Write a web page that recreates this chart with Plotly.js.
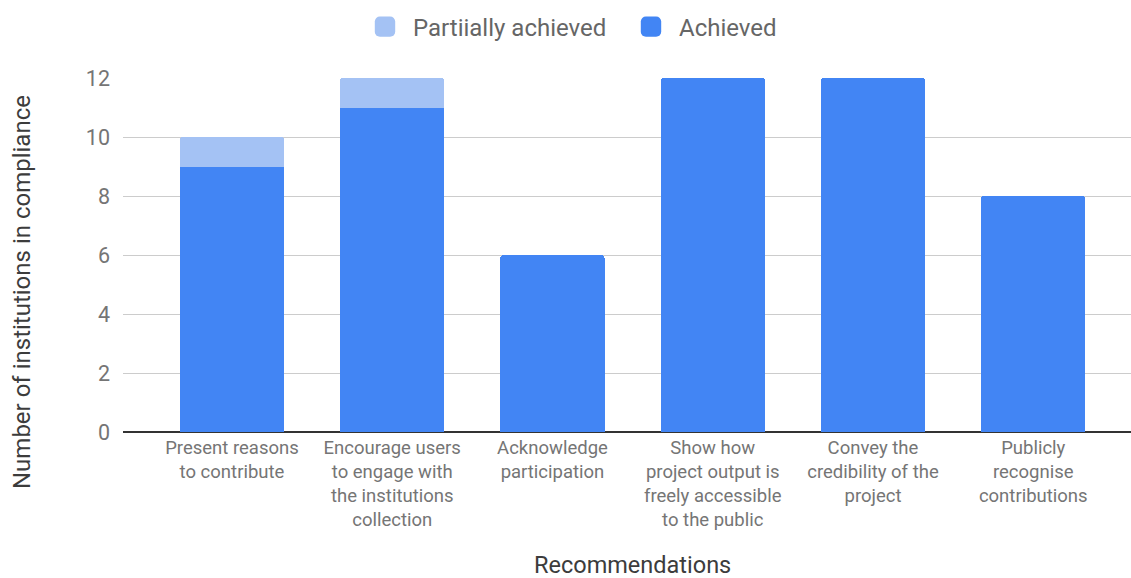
<!DOCTYPE html>
<html>
<head>
<meta charset="utf-8">
<script src="https://cdn.plot.ly/plotly-3.0.1.min.js"></script>
<style>
  html, body { margin: 0; padding: 0; background: #fff; }
  #chart { width: 1131px; height: 578px; }
  /* larger square swatches in the legend */
  #chart .legend .legendpoints path {
    transform: translate(20px, 0px) scale(1.7);
  }
</style>
</head>
<body>
<div id="chart"></div>
<script>
// Recommendations and how many institutions comply with each
const categories = [
  "Present reasons to contribute",
  "Encourage users to engage with the institutions collection",
  "Acknowledge participation",
  "Show how project output is freely accessible to the public",
  "Convey the credibility of the project",
  "Publicly recognise contributions"
];
const tickLabels = [
  "Present reasons<br>to contribute",
  "Encourage users<br>to engage with<br>the institutions<br>collection",
  "Acknowledge<br>participation",
  "Show how<br>project output is<br>freely accessible<br>to the public",
  "Convey the<br>credibility of the<br>project",
  "Publicly<br>recognise<br>contributions"
];
const achieved = [9, 11, 6, 12, 12, 8];
const partiallyAchieved = [1, 1, 0, 0, 0, 0];

const font = "Roboto, 'Noto Sans', Arial, sans-serif";
const grey = "#757575";
const titleGrey = "#3c3c3c";

const traces = [
  {
    type: "bar",
    name: "Achieved",
    x: categories,
    y: achieved,
    marker: { color: "#4285F4" },
    hoverinfo: "x+y+name"
  },
  {
    type: "bar",
    name: "Partiially achieved",
    x: categories,
    y: partiallyAchieved,
    marker: { color: "#A4C2F4" },
    hoverinfo: "x+y+name"
  }
];

const layout = {
  width: 1131,
  height: 578,
  margin: { l: 123, r: 0, t: 78, b: 146 },
  paper_bgcolor: "#fff",
  plot_bgcolor: "#fff",
  font: { family: font, color: grey },
  barmode: "stack",
  bargap: 0.35,
  barcornerradius: 3,
  showlegend: true,
  legend: {
    orientation: "h",
    xref: "container",
    yref: "container",
    x: 365 / 1131,
    xanchor: "left",
    y: 1 - 27 / 578,
    yanchor: "middle",
    traceorder: "reversed",
    font: { family: font, size: 24, color: "#666" },
    itemwidth: 38,
    entrywidth: 213
  },
  xaxis: {
    type: "category",
    range: [-0.68, 5.61],
    tickvals: categories,
    ticktext: tickLabels,
    tickfont: { family: font, size: 18.5, color: grey },
    ticks: "",
    showgrid: false,
    showline: false,
    zeroline: false,
    ticklabelstandoff: 2,
    automargin: false
  },
  yaxis: {
    range: [0, 12],
    tickvals: [0, 2, 4, 6, 8, 10, 12],
    tickfont: { family: font, size: 21.5, color: grey },
    ticks: "",
    showgrid: true,
    gridcolor: "#cccccc",
    gridwidth: 1,
    zeroline: true,
    zerolinecolor: "#333333",
    zerolinewidth: 2,
    showline: false,
    ticklabelstandoff: 12,
    automargin: false
  },
  annotations: [
    {
      // y-axis title, centred on the whole chart height
      text: "Number of institutions in compliance",
      xref: "paper",
      yref: "paper",
      x: (22 - 123) / 1008,
      xanchor: "center",
      y: (432 - 292) / 354,
      yanchor: "middle",
      textangle: -90,
      showarrow: false,
      font: { family: font, size: 24, color: titleGrey }
    },
    {
      // x-axis title at the foot of the page
      text: "Recommendations",
      xref: "paper",
      yref: "paper",
      x: (632 - 123) / 1008,
      xanchor: "center",
      y: (432 - 565) / 354,
      yanchor: "middle",
      showarrow: false,
      font: { family: font, size: 23.5, color: titleGrey }
    }
  ]
};

Plotly.newPlot("chart", traces, layout, { displayModeBar: false, staticPlot: true });
</script>
</body>
</html>
